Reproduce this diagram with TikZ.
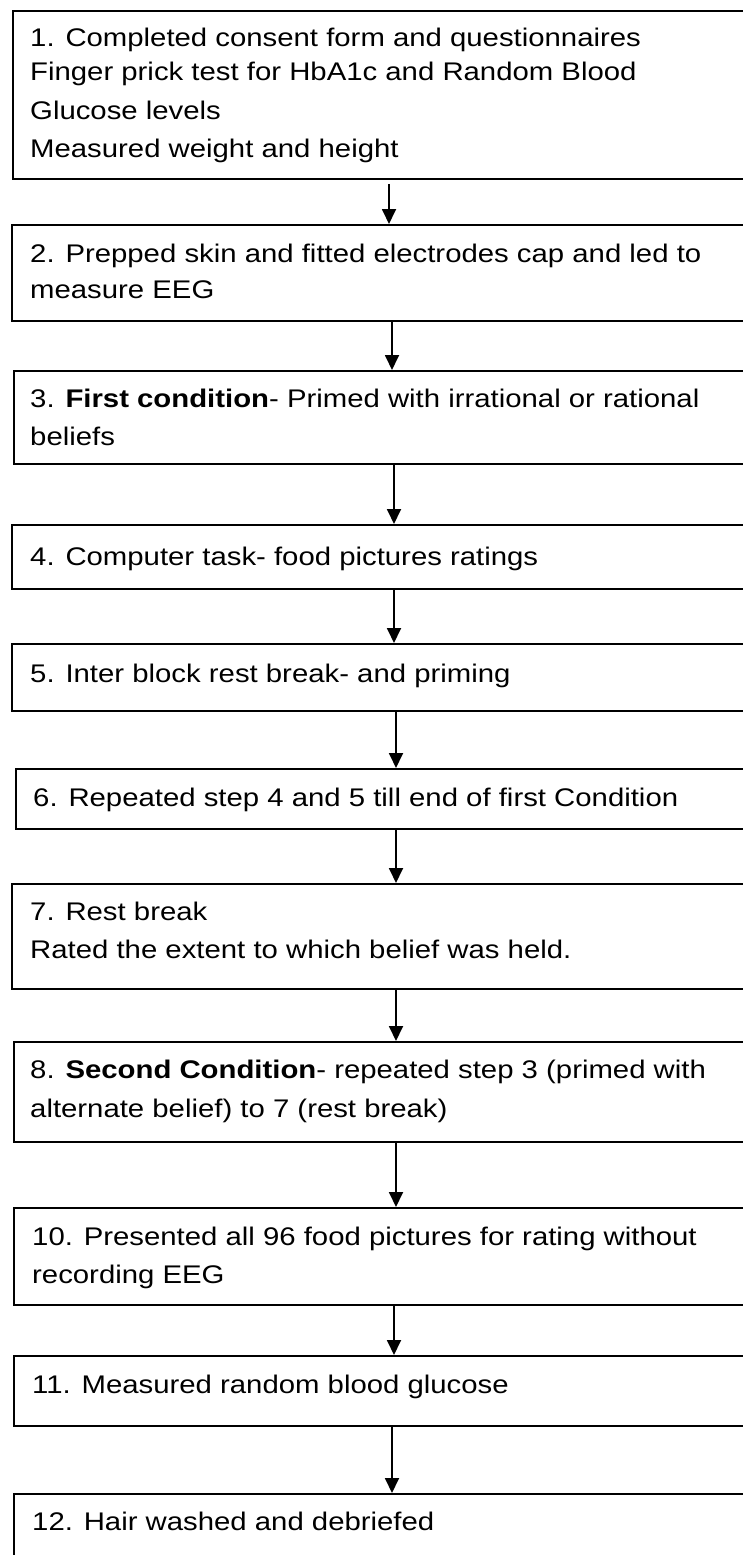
\documentclass[tikz,border=0pt]{standalone}
\usepackage{fontspec}
\setmainfont{Liberation Sans}[FakeStretch=1.15]
\usetikzlibrary{arrows.meta}
\begin{document}
\begin{tikzpicture}[x=1pt,y=-1pt,
  stepbox/.style={draw=black, line width=1.8pt, anchor=north west, inner sep=0pt,
                  minimum width=780pt},
  txt/.style={anchor=base west, inner sep=0pt, font=\fontsize{25.5}{38}\selectfont},
  arr/.style={-{Triangle[length=15pt,width=14pt]}, line width=1.8pt}]
\useasboundingbox (0,0) rectangle (743,1555);
\clip (0,0) rectangle (743,1555);
\fill[white] (0,0) rectangle (743,1555);

% step boxes (they run past the right edge of the page)
\node[stepbox, minimum height=168pt] (b1)  at (12,10)   {};
\node[stepbox, minimum height=96pt]  (b2)  at (11,224)  {};
\node[stepbox, minimum height=93pt]  (b3)  at (13,370)  {};
\node[stepbox, minimum height=64pt]  (b4)  at (11,524)  {};
\node[stepbox, minimum height=67pt]  (b5)  at (11,643)  {};
\node[stepbox, minimum height=60pt]  (b6)  at (15,768)  {};
\node[stepbox, minimum height=105pt] (b7)  at (11,883)  {};
\node[stepbox, minimum height=100pt] (b8)  at (13,1041) {};
\node[stepbox, minimum height=97pt]  (b10) at (13,1207) {};
\node[stepbox, minimum height=70pt]  (b11) at (13,1355) {};
\node[stepbox, minimum height=120pt] (b12) at (13,1493) {};

% step texts
\node[txt] (t1a) at (30,47)  {1. Completed consent form and questionnaires};
\node[txt] (t1b) at (30,81)  {Finger prick test for HbA1c and Random Blood};
\node[txt] (t1c) at (30,119) {Glucose levels};
\node[txt] (t1d) at (30,157) {Measured weight and height};

\node[txt] (t2a) at (30,262) {2. Prepped skin and fitted electrodes cap and led to};
\node[txt] (t2b) at (30,298) {measure EEG};

\node[txt] (t3a) at (30,407) {3. \textbf{First condition}- Primed with irrational or rational};
\node[txt] (t3b) at (30,445) {beliefs};

\node[txt] (t4) at (30,565) {4. Computer task- food pictures ratings};

\node[txt] (t5) at (30,682) {5. Inter block rest break- and priming};

\node[txt] (t6) at (33,806) {6. Repeated step 4 and 5 till end of first Condition};

\node[txt] (t7a) at (30,920) {7. Rest break};
\node[txt] (t7b) at (30,958) {Rated the extent to which belief was held.};

\node[txt] (t8a) at (30,1078) {8. \textbf{Second Condition}- repeated step 3 (primed with};
\node[txt] (t8b) at (30,1117) {alternate belief) to 7 (rest break)};

\node[txt] (t10a) at (32,1245) {10. Presented all 96 food pictures for rating without};
\node[txt] (t10b) at (32,1283) {recording EEG};

\node[txt] (t11) at (32,1393) {11. Measured random blood glucose};

\node[txt] (t12) at (32,1530) {12. Hair washed and debriefed};

% arrow columns
\coordinate (a1)  at (389,0);
\coordinate (a2)  at (392,0);
\coordinate (a3)  at (394,0);
\coordinate (a4)  at (394,0);
\coordinate (a5)  at (396,0);
\coordinate (a6)  at (396,0);
\coordinate (a7)  at (396,0);
\coordinate (a8)  at (396,0);
\coordinate (a9)  at (394,0);
\coordinate (a10) at (392,0);

% connectors
\draw[arr] ([yshift=-4pt]b1.south -| a1) -- (b2.north -| a1);
\draw[arr] (b2.south -| a2)  -- (b3.north -| a2);
\draw[arr] (b3.south -| a3)  -- (b4.north -| a3);
\draw[arr] (b4.south -| a4)  -- (b5.north -| a4);
\draw[arr] (b5.south -| a5)  -- (b6.north -| a5);
\draw[arr] (b6.south -| a6)  -- (b7.north -| a6);
\draw[arr] (b7.south -| a7)  -- (b8.north -| a7);
\draw[arr] (b8.south -| a8)  -- (b10.north -| a8);
\draw[arr] (b10.south -| a9) -- (b11.north -| a9);
\draw[arr] (b11.south -| a10) -- (b12.north -| a10);
\end{tikzpicture}
\end{document}
